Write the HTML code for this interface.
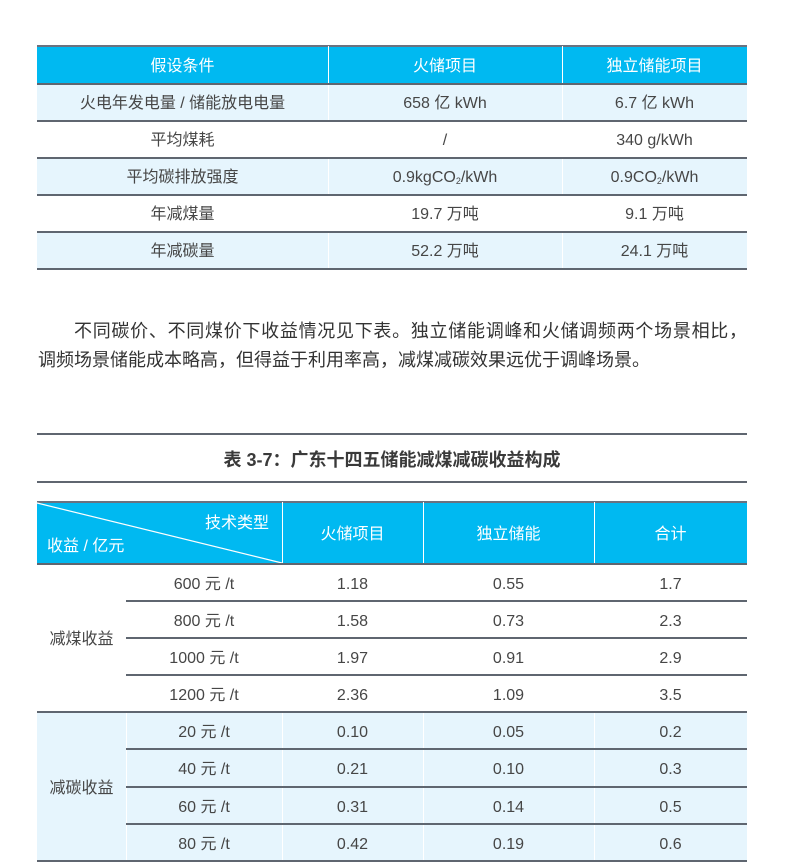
<!DOCTYPE html>
<html><head><meta charset="utf-8">
<style>
html,body{margin:0;padding:0;background:#fff;}
body{width:800px;height:863px;position:relative;overflow:hidden;font-family:"Liberation Sans","Noto Sans CJK SC",sans-serif;color:#464646;}
.a{position:absolute;}
.c{position:absolute;display:flex;align-items:center;justify-content:center;font-size:16px;line-height:20px;white-space:nowrap;}
.c span{display:block;line-height:20px;height:20px;position:relative;top:2px;}
.h{color:#fff;font-size:16px;}
.hl{position:absolute;height:2px;background:#5f6670;}
.vl{position:absolute;width:1px;background:#fff;}
.cy{position:absolute;background:#00b9f1;}
.lb{position:absolute;background:#e6f5fd;}
sub{font-size:9px;vertical-align:-2px;line-height:0;}
.p{position:absolute;left:38px;width:709px;font-size:18px;color:#333;line-height:29px;white-space:nowrap;}
.j{text-align:justify;text-align-last:justify;}
</style></head><body>

<!-- Table 1 -->
<div class="cy" style="left:37px;top:46px;width:710px;height:38px;"></div>
<div class="hl" style="left:37px;top:45px;width:710px;height:2px;background:#6a7280;"></div>
<div class="lb" style="left:37px;top:84px;width:710px;height:36px;"></div>
<div class="lb" style="left:37px;top:158px;width:710px;height:37px;"></div>
<div class="lb" style="left:37px;top:233px;width:710px;height:36px;"></div>
<div class="vl" style="left:328px;top:46px;height:223px;"></div>
<div class="vl" style="left:562px;top:46px;height:223px;"></div>
<div class="hl" style="left:37px;top:83px;width:710px;"></div>
<div class="hl" style="left:37px;top:120px;width:710px;"></div>
<div class="hl" style="left:37px;top:157px;width:710px;"></div>
<div class="hl" style="left:37px;top:194px;width:710px;"></div>
<div class="hl" style="left:37px;top:231px;width:710px;"></div>
<div class="hl" style="left:37px;top:268px;width:710px;"></div>

<div class="c h" style="left:37px;top:46px;width:291px;height:37px;"><span>假设条件</span></div>
<div class="c h" style="left:328px;top:46px;width:234px;height:37px;"><span>火储项目</span></div>
<div class="c h" style="left:562px;top:46px;width:185px;height:37px;"><span>独立储能项目</span></div>

<div class="c" style="left:37px;top:84px;width:291px;height:36px;"><span>火电年发电量 / 储能放电电量</span></div>
<div class="c" style="left:328px;top:84px;width:234px;height:36px;"><span>658 亿 kWh</span></div>
<div class="c" style="left:562px;top:84px;width:185px;height:36px;"><span>6.7 亿 kWh</span></div>

<div class="c" style="left:37px;top:121px;width:291px;height:36px;"><span>平均煤耗</span></div>
<div class="c" style="left:328px;top:121px;width:234px;height:36px;"><span>/</span></div>
<div class="c" style="left:562px;top:121px;width:185px;height:36px;"><span>340 g/kWh</span></div>

<div class="c" style="left:37px;top:158px;width:291px;height:36px;"><span>平均碳排放强度</span></div>
<div class="c" style="left:328px;top:158px;width:234px;height:36px;"><span>0.9kgCO<sub>2</sub>/kWh</span></div>
<div class="c" style="left:562px;top:158px;width:185px;height:36px;"><span>0.9CO<sub>2</sub>/kWh</span></div>

<div class="c" style="left:37px;top:195px;width:291px;height:36px;"><span>年减煤量</span></div>
<div class="c" style="left:328px;top:195px;width:234px;height:36px;"><span>19.7 万吨</span></div>
<div class="c" style="left:562px;top:195px;width:185px;height:36px;"><span>9.1 万吨</span></div>

<div class="c" style="left:37px;top:232px;width:291px;height:36px;"><span>年减碳量</span></div>
<div class="c" style="left:328px;top:232px;width:234px;height:36px;"><span>52.2 万吨</span></div>
<div class="c" style="left:562px;top:232px;width:185px;height:36px;"><span>24.1 万吨</span></div>

<!-- Paragraph -->
<div class="p j" style="top:317px;left:74px;width:673px;">不同碳价、不同煤价下收益情况见下表。独立储能调峰和火储调频两个场景相比，</div>
<div class="p" style="top:346px;">调频场景储能成本略高，但得益于利用率高，减煤减碳效果远优于调峰场景。</div>

<!-- Table 2 title -->
<div class="hl" style="left:37px;top:433px;width:710px;"></div>
<div class="c" style="left:37px;top:435px;width:710px;height:46px;font-size:18px;font-weight:bold;color:#3a3a3a;"><span>表 3-7：广东十四五储能减煤减碳收益构成</span></div>
<div class="hl" style="left:37px;top:481px;width:710px;"></div>

<!-- Table 2 -->
<div class="cy" style="left:37px;top:502px;width:710px;height:62px;"></div>
<div class="hl" style="left:37px;top:501px;width:710px;background:#6a7280;"></div>
<div class="lb" style="left:37px;top:713px;width:710px;height:148px;"></div>
<svg class="a" style="left:37px;top:502px;" width="246" height="62"><line x1="0" y1="1" x2="245" y2="61" stroke="#fff" stroke-width="1.2"/></svg>
<div class="vl" style="left:282px;top:502px;height:62px;"></div>
<div class="vl" style="left:423px;top:502px;height:62px;"></div>
<div class="vl" style="left:594px;top:502px;height:62px;"></div>
<div class="vl" style="left:126px;top:713px;height:148px;"></div>
<div class="vl" style="left:282px;top:713px;height:148px;"></div>
<div class="vl" style="left:423px;top:713px;height:148px;"></div>
<div class="vl" style="left:594px;top:713px;height:148px;"></div>
<div class="hl" style="left:37px;top:563px;width:710px;"></div>

<div class="a h" style="left:205px;top:514px;font-size:16px;line-height:20px;">技术类型</div>
<div class="a h" style="left:47px;top:537px;font-size:16px;line-height:20px;">收益 / 亿元</div>
<div class="c h" style="left:282px;top:503px;width:141px;height:60px;"><span>火储项目</span></div>
<div class="c h" style="left:423px;top:503px;width:171px;height:60px;"><span>独立储能</span></div>
<div class="c h" style="left:594px;top:503px;width:153px;height:60px;"><span>合计</span></div>

<div class="hl" style="left:126px;top:600px;width:621px;"></div>
<div class="hl" style="left:126px;top:637px;width:621px;"></div>
<div class="hl" style="left:126px;top:674px;width:621px;"></div>
<div class="hl" style="left:37px;top:711px;width:710px;"></div>
<div class="hl" style="left:126px;top:748px;width:621px;"></div>
<div class="hl" style="left:126px;top:786px;width:621px;"></div>
<div class="hl" style="left:126px;top:823px;width:621px;"></div>
<div class="hl" style="left:37px;top:860px;width:710px;"></div>

<div class="c" style="left:37px;top:565px;width:89px;height:146px;"><span>减煤收益</span></div>
<div class="c" style="left:37px;top:713px;width:89px;height:147px;"><span>减碳收益</span></div>

<div class="c" style="left:126px;top:565px;width:156px;height:35px;"><span>600 元 /t</span></div>
<div class="c" style="left:282px;top:565px;width:141px;height:35px;"><span>1.18</span></div>
<div class="c" style="left:423px;top:565px;width:171px;height:35px;"><span>0.55</span></div>
<div class="c" style="left:594px;top:565px;width:153px;height:35px;"><span>1.7</span></div>

<div class="c" style="left:126px;top:602px;width:156px;height:35px;"><span>800 元 /t</span></div>
<div class="c" style="left:282px;top:602px;width:141px;height:35px;"><span>1.58</span></div>
<div class="c" style="left:423px;top:602px;width:171px;height:35px;"><span>0.73</span></div>
<div class="c" style="left:594px;top:602px;width:153px;height:35px;"><span>2.3</span></div>

<div class="c" style="left:126px;top:639px;width:156px;height:35px;"><span>1000 元 /t</span></div>
<div class="c" style="left:282px;top:639px;width:141px;height:35px;"><span>1.97</span></div>
<div class="c" style="left:423px;top:639px;width:171px;height:35px;"><span>0.91</span></div>
<div class="c" style="left:594px;top:639px;width:153px;height:35px;"><span>2.9</span></div>

<div class="c" style="left:126px;top:676px;width:156px;height:35px;"><span>1200 元 /t</span></div>
<div class="c" style="left:282px;top:676px;width:141px;height:35px;"><span>2.36</span></div>
<div class="c" style="left:423px;top:676px;width:171px;height:35px;"><span>1.09</span></div>
<div class="c" style="left:594px;top:676px;width:153px;height:35px;"><span>3.5</span></div>

<div class="c" style="left:126px;top:713px;width:156px;height:35px;"><span>20 元 /t</span></div>
<div class="c" style="left:282px;top:713px;width:141px;height:35px;"><span>0.10</span></div>
<div class="c" style="left:423px;top:713px;width:171px;height:35px;"><span>0.05</span></div>
<div class="c" style="left:594px;top:713px;width:153px;height:35px;"><span>0.2</span></div>

<div class="c" style="left:126px;top:750px;width:156px;height:36px;"><span>40 元 /t</span></div>
<div class="c" style="left:282px;top:750px;width:141px;height:36px;"><span>0.21</span></div>
<div class="c" style="left:423px;top:750px;width:171px;height:36px;"><span>0.10</span></div>
<div class="c" style="left:594px;top:750px;width:153px;height:36px;"><span>0.3</span></div>

<div class="c" style="left:126px;top:788px;width:156px;height:35px;"><span>60 元 /t</span></div>
<div class="c" style="left:282px;top:788px;width:141px;height:35px;"><span>0.31</span></div>
<div class="c" style="left:423px;top:788px;width:171px;height:35px;"><span>0.14</span></div>
<div class="c" style="left:594px;top:788px;width:153px;height:35px;"><span>0.5</span></div>

<div class="c" style="left:126px;top:825px;width:156px;height:35px;"><span>80 元 /t</span></div>
<div class="c" style="left:282px;top:825px;width:141px;height:35px;"><span>0.42</span></div>
<div class="c" style="left:423px;top:825px;width:171px;height:35px;"><span>0.19</span></div>
<div class="c" style="left:594px;top:825px;width:153px;height:35px;"><span>0.6</span></div>

</body></html>
